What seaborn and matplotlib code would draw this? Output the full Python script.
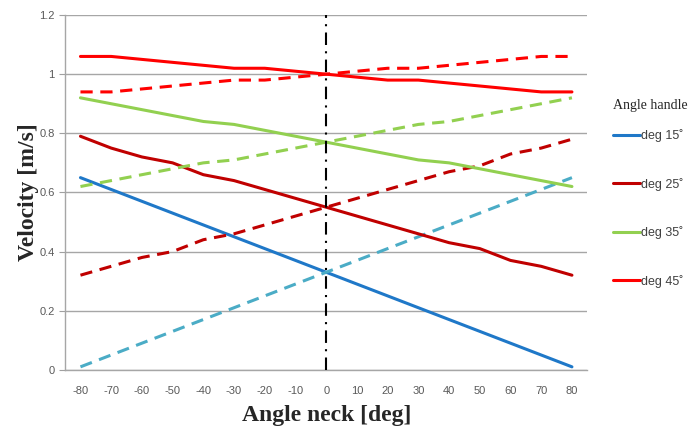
import numpy as np
import pandas as pd
import matplotlib
matplotlib.use("Agg")
import matplotlib.pyplot as plt
import seaborn as sns
from matplotlib.lines import Line2D

# dados
angle_neck = [-80, -70, -60, -50, -40, -30, -20, -10, 0, 10, 20, 30, 40, 50, 60, 70, 80]

deg15_solid = [0.65, 0.61, 0.57, 0.53, 0.49, 0.45, 0.41, 0.37, 0.33, 0.29, 0.25, 0.21, 0.17, 0.13, 0.09, 0.05, 0.01]
deg15_dash = [0.01, 0.05, 0.09, 0.13, 0.17, 0.21, 0.25, 0.29, 0.33, 0.37, 0.41, 0.45, 0.49, 0.53, 0.57, 0.61, 0.65]

deg25_solid = [0.79, 0.75, 0.72, 0.70, 0.66, 0.64, 0.61, 0.58, 0.55, 0.52, 0.49, 0.46, 0.43, 0.41, 0.37, 0.35, 0.32]
deg25_dash = [0.32, 0.35, 0.38, 0.40, 0.44, 0.46, 0.49, 0.52, 0.55, 0.58, 0.61, 0.64, 0.67, 0.69, 0.73, 0.75, 0.78]

deg35_solid = [0.92, 0.90, 0.88, 0.86, 0.84, 0.83, 0.81, 0.79, 0.77, 0.75, 0.73, 0.71, 0.70, 0.68, 0.66, 0.64, 0.62]
deg35_dash = [0.62, 0.64, 0.66, 0.68, 0.70, 0.71, 0.73, 0.75, 0.77, 0.79, 0.81, 0.83, 0.84, 0.86, 0.88, 0.90, 0.92]

deg45_solid = [1.06, 1.06, 1.05, 1.04, 1.03, 1.02, 1.02, 1.01, 1.00, 0.99, 0.98, 0.98, 0.97, 0.96, 0.95, 0.94, 0.94]
deg45_dash = [0.94, 0.94, 0.95, 0.96, 0.97, 0.98, 0.98, 0.99, 1.00, 1.01, 1.02, 1.02, 1.03, 1.04, 1.05, 1.06, 1.06]

labels = ['deg 15˚', 'deg 25˚', 'deg 35˚', 'deg 45˚']
cores = ['#1F78C8', '#C00000', '#92D050', '#FF0000']
cores_dash = ['#4BACC6', '#C00000', '#92D050', '#FF0000']
solidas = [deg15_solid, deg25_solid, deg35_solid, deg45_solid]
tracejadas = [deg15_dash, deg25_dash, deg35_dash, deg45_dash]

sns.set_style("white")
plt.rcParams['font.family'] = ['Liberation Sans', 'DejaVu Sans']
plt.rcParams['axes.unicode_minus'] = False

fig = plt.figure(figsize=(7, 4.3), dpi=100)
ax = fig.add_axes([0.093, 0.14, 0.746, 0.825])

for i in range(4):
    df = pd.DataFrame({'Angle': angle_neck, 'Vel': solidas[i]})
    sns.lineplot(data=df, x='Angle', y='Vel', ax=ax, color=cores[i], linewidth=2.2)
    df2 = pd.DataFrame({'Angle': angle_neck, 'Vel': tracejadas[i]})
    sns.lineplot(data=df2, x='Angle', y='Vel', ax=ax, color=cores_dash[i], linewidth=2.2,
                 linestyle=(0, (4, 2.5)))

ax.axvline(0, color='black', linewidth=1.5, linestyle=(0, (6, 3, 1, 3)), zorder=5)

ax.set_xlim(-85, 85)
ax.set_ylim(0, 1.2)
ax.set_xticks(angle_neck)
ax.set_yticks([0, 0.2, 0.4, 0.6, 0.8, 1.0, 1.2])
ax.set_yticklabels(['0', '0.2', '0.4', '0.6', '0.8', '1', '1.2'])
ax.tick_params(axis='both', labelsize=8, colors='#595959', length=4, width=0.8)
ax.tick_params(axis='x', length=0, pad=12)
ax.tick_params(axis='y', direction='out', left=True, length=4, color='#A0A0A0')
ax.yaxis.grid(True, color='#A6A6A6', linewidth=1)
ax.xaxis.grid(False)
ax.set_axisbelow(True)
for s in ['top', 'right']:
    ax.spines[s].set_visible(False)
for s in ['left', 'bottom']:
    ax.spines[s].set_color('#A6A6A6')
    ax.spines[s].set_linewidth(1)

ax.set_xlabel('Angle neck [deg]', fontsize=17, fontweight='bold',
              family='Liberation Serif', labelpad=6)
ax.set_ylabel('Velocity [m/s]', fontsize=17, fontweight='bold',
              family='Liberation Serif', labelpad=0)

handles = [Line2D([0], [0], color=cores[i], linewidth=2.2) for i in range(4)]
leg = fig.legend(handles, labels, loc='upper left', bbox_to_anchor=(0.86, 0.795),
                 frameon=False, fontsize=9, labelspacing=2.85, handlelength=2.1,
                 handletextpad=0.1, title='Angle handle', alignment='left')
leg.get_title().set_family('Liberation Serif')
leg.get_title().set_fontsize(10)
leg._legend_box.sep = 12
for t in leg.get_texts():
    t.set_color('#404040')

fig.savefig('out.png', dpi=100)
